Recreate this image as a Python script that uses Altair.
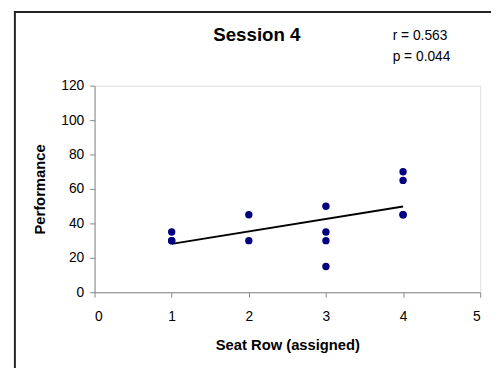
import altair as alt
import pandas as pd

# ---- data ----
seat_row = [1, 1, 1, 2, 2, 3, 3, 3, 3, 4, 4, 4, 4]
performance = [35, 30, 30, 45, 30, 50, 35, 30, 15, 70, 65, 45, 45]
x_ticks = [0, 1, 2, 3, 4, 5]
y_ticks = [0, 20, 40, 60, 80, 100, 120]
title_text = ["Session 4"]
stats_text = ["r = 0.563\np = 0.044"]

FONT = "Liberation Sans"

df = pd.DataFrame({"row": seat_row, "perf": performance})
one = pd.DataFrame({"k": [0]})
df_title = pd.DataFrame({"t": title_text})
df_stats = pd.DataFrame({"t": stats_text})

x_scale = alt.Scale(domain=[0, 5], nice=False, zero=False)
y_scale = alt.Scale(domain=[0, 120], nice=False)

x_axis = alt.Axis(
    title="Seat Row (assigned)", values=x_ticks, grid=False, format="d",
    tickSize=5, labelPadding=13, labelFontSize=14, titleFontSize=15,
    titleFontWeight="bold", titleY=53, titleBaseline="middle",
)
y_axis = alt.Axis(
    title="Performance", values=y_ticks, grid=False, format="d",
    tickSize=5, labelPadding=6, labelFontSize=14, titleFontSize=15,
    titleFontWeight="bold", titleX=-56, titleY=105, titleBaseline="middle",
    titleAlign="center", titleAngle=270,
)

X = alt.X("row:Q", scale=x_scale, axis=x_axis)
Y = alt.Y("perf:Q", scale=y_scale, axis=y_axis)

border = alt.Chart(one).mark_rect(
    fillOpacity=0, stroke="#222222", strokeWidth=2
).encode(
    x=alt.value(-81), x2=alt.value(700), y=alt.value(-75), y2=alt.value(600)
)

fit = alt.Chart(df).transform_regression("row", "perf").mark_line(
    color="black", strokeWidth=2
).encode(x=X, y=Y)

points = alt.Chart(df).mark_circle(
    size=56, color="#000080", opacity=1
).encode(x=X, y=Y)

title = alt.Chart(df_title).mark_text(
    font=FONT, fontSize=19, fontWeight="bold", align="center",
    baseline="middle", color="black"
).encode(x=alt.value(165), y=alt.value(-51), text="t:N")

stats = alt.Chart(df_stats).mark_text(
    font=FONT, fontSize=14, align="left", baseline="alphabetic",
    lineBreak="\n", lineHeight=21, color="black"
).encode(x=alt.value(303), y=alt.value(-46), text="t:N")

chart = alt.layer(border, fit, points, title, stats).properties(
    width=392, height=210,
    autosize=alt.AutoSizeParams(type="none"),
    padding={"left": 88, "top": 76, "right": 11, "bottom": 74},
).configure_view(
    stroke="#808080", strokeWidth=1
).configure_axis(
    domainColor="black", tickColor="black", labelColor="black",
    titleColor="black", labelFont=FONT, titleFont=FONT, domainWidth=1,
).configure(background="white")

chart.save("out.html", embed_options={"renderer": "svg", "actions": False})
